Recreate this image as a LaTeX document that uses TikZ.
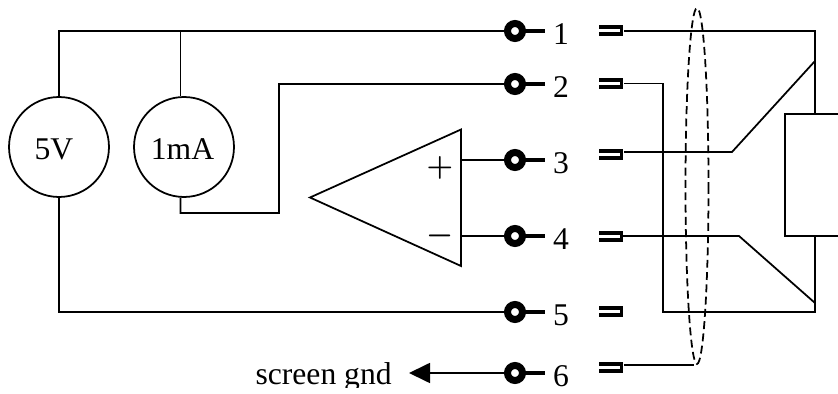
\documentclass[tikz,border=0pt]{standalone}
\usepackage{fontspec}
\setmainfont{Liberation Serif}
\usetikzlibrary{arrows.meta}
\tikzset{
  wire/.style={line width=1pt, line join=miter},
  source/.style={draw, circle, line width=1pt, minimum size=2cm, inner sep=0pt},
  terminal/.style={draw, circle, fill=white, line width=4pt, minimum size=0.3cm, inner sep=0pt},
  stub/.style={line width=2pt},
  jack/.style={line width=2pt},
  tag/.style={inner sep=0pt, font=\fontsize{18}{20}\selectfont},
  pinlabel/.style={tag, anchor=base},
  sign/.style={inner sep=0pt, font=\fontsize{16}{20}\selectfont\boldmath},
  shield/.style={line width=1pt, dash pattern=on 4.5pt off 2.5pt}
}
\begin{document}
\begin{tikzpicture}[x=0.02cm, y=-0.02cm]
    \useasboundingbox (0,0) rectangle (838,394);
    \clip (0,0) rectangle (838,388);
    % 电源
    \node[source] (volt) at (59,147) {};
    \node[source] (amp) at (184,147) {};
    \node[tag] (voltname) at (54,149) {5V};
    \node[tag] (ampname) at (182.5,149) {1mA};
    % 左侧接线柱与编号
    \foreach \i/\y in {1/31, 2/84, 3/160, 4/236, 5/312, 6/373} {     % 六个接线柱
      \draw[stub] (515,\y) -- (545,\y);
      \node[terminal] (pin\i) at (515,\y) {};
      \node[pinlabel] (num\i) at (561,\y+14) {\i};
    }
    % 右侧插座
    \foreach \i/\y/\w in {1/30.5/31, 2/83.5/83.5, 3/154.5/152, 4/236.5/236, 5/311.5/311.5, 6/367.5/365} {
      \draw[jack] (599,\y-3.5) -- (621.5,\y-3.5) -- (621.5,\y+3.5) -- (599,\y+3.5);
      \coordinate (jack\i) at (624,\w);
    }
    % 运放
    \draw[wire] (310,197.5) -- (461,129.5) -- (461,266) -- cycle;
    \node[sign] (plus) at (440,168) {$+$};
    \node[sign] (minus) at (440,236) {$-$};
    \coordinate (inp) at (461,160);
    \coordinate (inm) at (461,236);
    % 左侧连线
    \draw[wire] (volt.north) -- (59,31) -- (pin1);
    \draw[wire] (amp.94) -- (amp.94 |- pin1);
    \draw[wire] (amp.266) -- (180.5,213) -- (279,213) -- (279,84) -- (pin2);
    \draw[wire] (inp) -- (pin3);
    \draw[wire] (inm) -- (pin4);
    \draw[wire] (volt.south) -- (59,312) -- (pin5);
    % 屏蔽地
    \coordinate (gndtip) at (409,373);
    \draw[wire, -{Triangle[length=0.42cm, width=0.4cm]}] (pin6) -- (gndtip);
    \node[tag, anchor=base east] (gnd) at (392,385) {screen gnd};
    % 负载盒
    \draw[wire] (840,114) -- (785,114) -- (785,236) -- (840,236);
    \coordinate (boxtop) at (815,114);
    \coordinate (boxbot) at (815,236);
    \coordinate (tap3) at (815,61);
    \coordinate (tap4) at (815,303);
    \coordinate (scr) at (694,365);
    % 右侧连线
    \draw[wire] (jack1) -- (815,31) -- (boxtop);
    \draw[wire] (jack2) -- (663,83.5) -- (663,312) -- (815,312) -- (boxbot);
    \draw[wire] (jack3) -- (732,152) -- (tap3);
    \draw[wire] (620,236) -- (739,236) -- (tap4);
    \draw[wire] (jack6) -- (scr);
    % 屏蔽层
    \draw[shield] (697,186) ellipse [x radius=11.5, y radius=178];
\end{tikzpicture}
\end{document}
